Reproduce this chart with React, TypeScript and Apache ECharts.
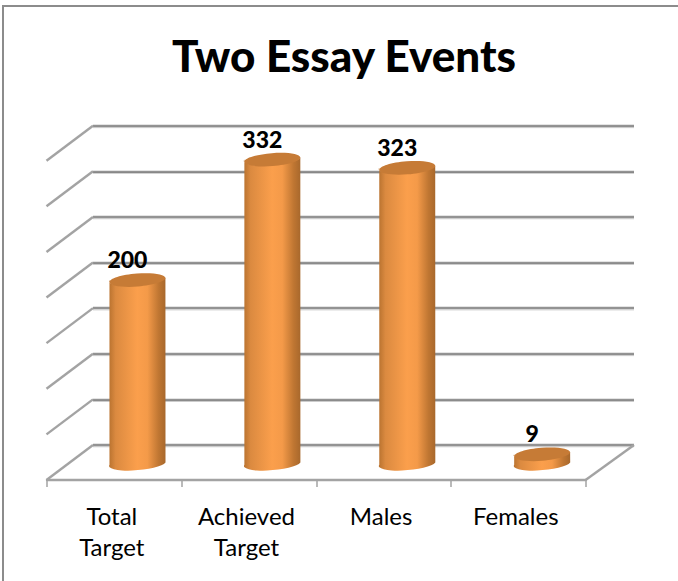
import React, { useEffect, useRef } from "react";
import * as echarts from "echarts";

const titleText = "Two Essay Events";
const categories = ["Total\nTarget", "Achieved\nTarget", "Males", "Females"];
const values = [200, 332, 323, 9];
const gridValues = [0, 50, 100, 150, 200, 250, 300, 350];

const FONT = "Lato, Carlito, Calibri, sans-serif";
const DEPTH_X = 46.5;
const DEPTH_Y = 35;
const TILT_DEG = 4.5;
const TILT = (TILT_DEG * Math.PI) / 180;
const GRID_COLOR = "#939393";

function renderCylinder(params: any, api: any) {
  const idx = api.value(0);
  const val = api.value(1);
  const [cx, cy] = api.coord([idx, val]);
  const [, by] = api.coord([idx, 0]);
  const rx = api.size([1, 0])[0] * 0.208;
  const ry = 6.5;
  const dx = rx * Math.cos(TILT);
  const dy = rx * Math.sin(TILT);
  const body =
    `M ${cx - dx} ${cy + dy} L ${cx - dx} ${by + dy} ` +
    `A ${rx} ${ry} ${-TILT_DEG} 0 0 ${cx + dx} ${by - dy} ` +
    `L ${cx + dx} ${cy - dy} ` +
    `A ${rx} ${ry} ${-TILT_DEG} 0 1 ${cx - dx} ${cy + dy} Z`;
  return {
    type: "group",
    children: [
      {
        type: "path",
        shape: { pathData: body },
        style: {
          fill: new echarts.graphic.LinearGradient(0, 0, 1, 0, [
            { offset: 0, color: "#b8722f" },
            { offset: 0.12, color: "#db8a40" },
            { offset: 0.5, color: "#fb9f4c" },
            { offset: 0.68, color: "#f49a49" },
            { offset: 0.88, color: "#bf7632" },
            { offset: 1, color: "#a8682c" },
          ]),
        },
      },
      {
        type: "ellipse",
        x: cx,
        y: cy,
        rotation: TILT,
        shape: { cx: 0, cy: 0, rx, ry },
        style: { fill: "#c67b36" },
      },
      {
        type: "text",
        x: cx - 10,
        y: cy - 21,
        style: {
          text: String(val),
          fill: "#000000",
          font: `900 23px ${FONT}`,
          align: "center",
          verticalAlign: "middle",
        },
      },
    ],
  };
}

function renderDepthLine(params: any, api: any) {
  const val = api.value(0);
  const [, y] = api.coord([0, val]);
  const left = params.coordSys.x;
  const right = left + params.coordSys.width;
  const style = { stroke: "#a3a3a3", lineWidth: 2.4, fill: "none" };
  const children: any[] = [
    { type: "line", shape: { x1: left, y1: y, x2: left - DEPTH_X, y2: y + DEPTH_Y }, style },
    // soft shadow under the wall line
    {
      type: "line",
      shape: { x1: left, y1: y + 1.8, x2: right, y2: y + 1.8 },
      style: { stroke: "rgba(0,0,0,0.1)", lineWidth: 1.5, fill: "none" },
    },
  ];
  if (val === 0) {
    children.push({
      type: "line",
      shape: { x1: right, y1: y, x2: right - 48.4, y2: y + DEPTH_Y },
      style,
    });
  }
  return { type: "group", children };
}

export default function App() {
  const ref = useRef<HTMLDivElement>(null);
  useEffect(() => {
    const chart = echarts.init(ref.current!, null, { renderer: "svg" });
    chart.setOption({
      animation: false,
      backgroundColor: "#ffffff",
      title: {
        text: titleText,
        left: 339,
        top: 28,
        textAlign: "center",
        textStyle: { fontFamily: FONT, fontSize: 44, fontWeight: 900, color: "#000000" },
      },
      graphic: [
        {
          type: "polyline",
          shape: { points: [[3, 581], [3, 6], [678, 6]] },
          style: { fill: "none", stroke: "#8c8c8c", lineWidth: 2 },
          silent: true,
        },
      ],
      grid: [
        { left: 93, top: 125.7, width: 541, height: 319.3 },
        { left: 70, top: 143.2, width: 539.6, height: 319.3 },
        { left: 47, top: 160.7, width: 538.6, height: 319.3 },
      ],
      xAxis: [
        { gridIndex: 0, type: "category", data: categories, show: false },
        { gridIndex: 1, type: "category", data: categories, show: false },
        {
          gridIndex: 2,
          type: "category",
          data: categories,
          axisLine: { show: true, lineStyle: { color: "#a3a3a3", width: 2.4 } },
          axisTick: { show: true, length: 7, alignWithLabel: false, lineStyle: { color: "#a3a3a3", width: 1.5 } },
          axisLabel: {
            interval: 0,
            margin: 20,
            padding: [0, 5, 0, 0],
            fontFamily: FONT,
            fontSize: 24,
            lineHeight: 31,
            color: "#000000",
          },
          splitLine: { show: false },
        },
      ],
      yAxis: [
        {
          gridIndex: 0,
          type: "value",
          min: 0,
          max: 350,
          interval: 50,
          axisLine: { show: false },
          axisTick: { show: false },
          axisLabel: { show: false },
          splitLine: {
            show: true,
            lineStyle: { color: GRID_COLOR, width: 2.4 },
          },
        },
        { gridIndex: 1, type: "value", min: 0, max: 350, interval: 50, show: false, splitLine: { show: false } },
        { gridIndex: 2, type: "value", min: 0, max: 350, interval: 50, show: false, splitLine: { show: false } },
      ],
      series: [
        {
          type: "custom",
          xAxisIndex: 0,
          yAxisIndex: 0,
          renderItem: renderDepthLine,
          data: gridValues.map((v) => [v]),
          encode: { y: 0 },
          silent: true,
          z: 3,
        },
        {
          type: "custom",
          xAxisIndex: 1,
          yAxisIndex: 1,
          renderItem: renderCylinder,
          data: values.map((v, i) => [i, v]),
          encode: { x: 0, y: 1 },
          z: 5,
        },
      ],
    });
    return () => chart.dispose();
  }, []);
  return (
    <div
      ref={ref}
      style={{ position: "fixed", left: 0, top: 0, width: 678, height: 581 }}
    />
  );
}
